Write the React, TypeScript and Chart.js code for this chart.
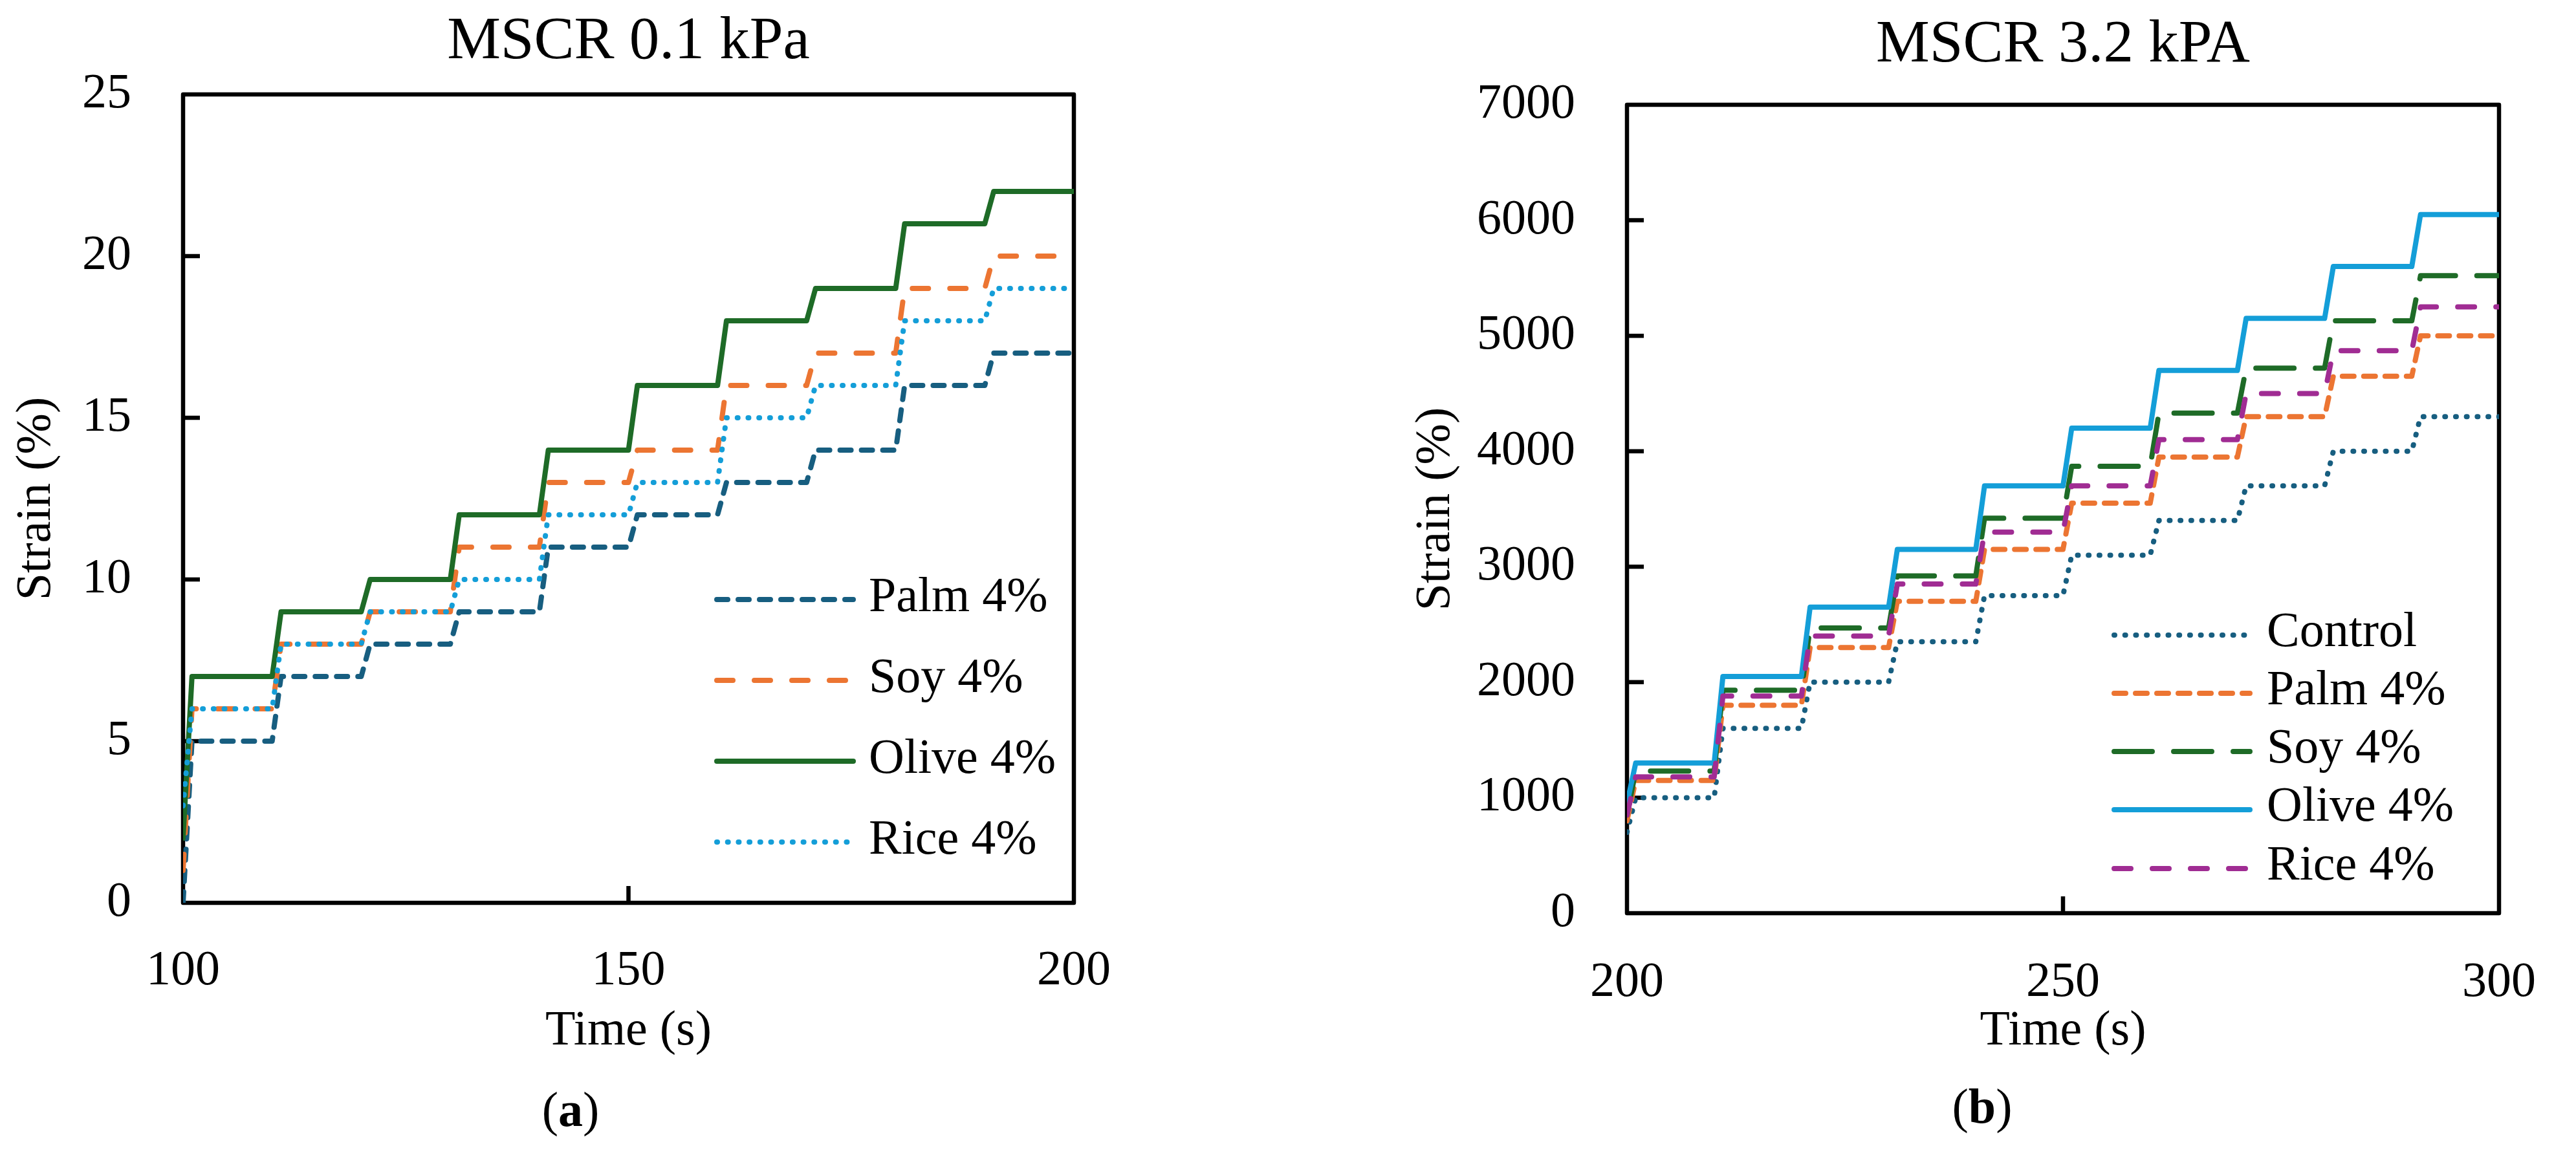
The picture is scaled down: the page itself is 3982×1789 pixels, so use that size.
import React, { useEffect, useRef } from "react";
import { Chart, registerables } from "chart.js";

Chart.register(...registerables);

const FONT = "'Liberation Serif', 'Times New Roman', serif";

// ---------- Panel (a): MSCR 0.1 kPa ----------
const titleA = "MSCR 0.1 kPa";
const timeA = [100, 101, 110, 111, 120, 121, 130, 131, 140, 141, 150, 151, 160, 161, 170, 171, 180, 181, 190, 191, 200];
const palmA = [0, 5, 5, 7, 7, 8, 8, 9, 9, 11, 11, 12, 12, 13, 13, 14, 14, 16, 16, 17, 17];
const soyA = [1, 6, 6, 8, 8, 9, 9, 11, 11, 13, 13, 14, 14, 16, 16, 17, 17, 19, 19, 20, 20];
const oliveA = [2, 7, 7, 9, 9, 10, 10, 12, 12, 14, 14, 16, 16, 18, 18, 19, 19, 21, 21, 22, 22];
const riceA = [3, 6, 6, 8, 8, 9, 9, 10, 10, 12, 12, 13, 13, 15, 15, 16, 16, 18, 18, 19, 19];
const labelsA = ["Palm 4%", "Soy 4%", "Olive 4%", "Rice 4%"];
const xRangeA = [100, 200];
const yRangeA = [0, 25];

// ---------- Panel (b): MSCR 3.2 kPA ----------
const titleB = "MSCR 3.2 kPA";
const timeB = [200, 201, 210, 211, 220, 221, 230, 231, 240, 241, 250, 251, 260, 261, 270, 271, 280, 281, 290, 291, 300];
const controlB = [700, 1000, 1000, 1600, 1600, 2000, 2000, 2350, 2350, 2750, 2750, 3100, 3100, 3400, 3400, 3700, 3700, 4000, 4000, 4300, 4300];
const palmB = [800, 1150, 1150, 1800, 1800, 2300, 2300, 2700, 2700, 3150, 3150, 3550, 3550, 3950, 3950, 4300, 4300, 4650, 4650, 5000, 5000];
const soyB = [850, 1230, 1230, 1930, 1930, 2470, 2470, 2920, 2920, 3420, 3420, 3870, 3870, 4330, 4330, 4720, 4720, 5130, 5130, 5520, 5520];
const oliveB = [950, 1300, 1300, 2050, 2050, 2650, 2650, 3150, 3150, 3700, 3700, 4200, 4200, 4700, 4700, 5150, 5150, 5600, 5600, 6050, 6050];
const riceB = [850, 1180, 1180, 1880, 1880, 2400, 2400, 2850, 2850, 3300, 3300, 3700, 3700, 4100, 4100, 4500, 4500, 4870, 4870, 5250, 5250];
const labelsB = ["Control", "Palm 4%", "Soy 4%", "Olive 4%", "Rice 4%"];
const xRangeB = [200, 300];
const yRangeB = [0, 7000];

const xTitle = "Time (s)";
const yTitle = "Strain (%)";

const C_DARKBLUE = "#175E80";
const C_ORANGE = "#EC7532";
const C_GREEN = "#1E6B27";
const C_LIGHTBLUE = "#149ED8";
const C_PURPLE = "#A02C93";

const pts = (xs: number[], ys: number[]) => xs.map((x, i) => ({ x, y: ys[i] }));

const framePlugin = {
  id: "frame",
  beforeDatasetsDraw(chart: any, _args: any, opts: any) {
    const { ctx, chartArea: a } = chart;
    const xs = chart.scales.x;
    const ys = chart.scales.y;
    ctx.save();
    ctx.strokeStyle = "#000";
    ctx.lineWidth = opts.lineWidth;
    ctx.lineCap = "butt";
    ctx.beginPath();
    for (const t of xs.ticks) {
      if (t.value === xs.min || t.value === xs.max) continue;
      const px = xs.getPixelForValue(t.value);
      ctx.moveTo(px, a.bottom);
      ctx.lineTo(px, a.bottom - opts.tickLen);
    }
    for (const t of ys.ticks) {
      if (t.value === ys.min || t.value === ys.max) continue;
      const py = ys.getPixelForValue(t.value);
      ctx.moveTo(a.left, py);
      ctx.lineTo(a.left + opts.tickLen, py);
    }
    ctx.stroke();
    ctx.lineJoin = "round";
    ctx.strokeRect(a.left, a.top, a.right - a.left, a.bottom - a.top);
    ctx.restore();
  },
};

const legendPlugin = {
  id: "insideLegend",
  afterDatasetsDraw(chart: any, _args: any, opts: any) {
    const { ctx } = chart;
    chart.data.datasets.forEach((ds: any, i: number) => {
      const y = opts.rows[i];
      ctx.save();
      ctx.strokeStyle = ds.borderColor;
      ctx.lineWidth = ds.borderWidth;
      ctx.lineCap = "round";
      ctx.setLineDash(ds.borderDash || []);
      ctx.beginPath();
      ctx.moveTo(opts.x0, y);
      ctx.lineTo(opts.x1, y);
      ctx.stroke();
      ctx.setLineDash([]);
      ctx.fillStyle = "#000";
      ctx.font = `${opts.fontSize}px ${FONT}`;
      ctx.textBaseline = "middle";
      ctx.textAlign = "left";
      ctx.fillText(ds.label, opts.textX, y + (opts.textDy || 0));
      ctx.restore();
    });
  },
};

const line = (label: string, data: any[], color: string, dash: number[], order: number) => ({
  label,
  data,
  borderColor: color,
  backgroundColor: color,
  borderWidth: 8,
  borderDash: dash,
  borderCapStyle: "round",
  borderJoinStyle: "round",
  pointRadius: 0,
  tension: 0,
  fill: false,
  order,
});

function makeConfig(p: any) {
  return {
    type: "line",
    data: { datasets: p.datasets },
    plugins: [framePlugin, legendPlugin],
    options: {
      animation: false,
      responsive: false,
      devicePixelRatio: 1,
      parsing: true,
      layout: { padding: { left: 0, right: p.padRight, top: 0, bottom: 0 } },
      plugins: {
        legend: { display: false },
        tooltip: { enabled: false },
        title: {
          display: true,
          text: p.title,
          fullSize: false,
          color: "#000",
          font: { family: FONT, size: 93, weight: "normal", lineHeight: 1.2 },
          padding: { top: p.titlePadTop, bottom: p.titlePadBottom },
        },
        frame: { lineWidth: 6.5, tickLen: 26 },
        insideLegend: p.legend,
      },
      scales: {
        x: {
          type: "linear",
          min: p.xRange[0],
          max: p.xRange[1],
          grid: { display: false, drawTicks: false },
          border: { display: false },
          ticks: {
            stepSize: 50,
            color: "#000",
            font: { family: FONT, size: 76, lineHeight: 1.2 },
            padding: p.xTickPad,
            maxRotation: 0,
            autoSkip: false,
            callback: (v: any) => String(v),
          },
          title: {
            display: true,
            text: xTitle,
            color: "#000",
            font: { family: FONT, size: 76, lineHeight: 1.2 },
            padding: { top: 0, bottom: 148 },
          },
          afterFit: (s: any) => {
            s.height = p.xHeight;
          },
        },
        y: {
          type: "linear",
          min: p.yRange[0],
          max: p.yRange[1],
          grid: { display: false, drawTicks: false },
          border: { display: false },
          ticks: {
            stepSize: p.yStep,
            color: "#000",
            font: { family: FONT, size: 76, lineHeight: 1.2 },
            padding: 80,
            callback: (v: any) => String(v),
          },
          title: {
            display: true,
            text: yTitle,
            color: "#000",
            font: { family: FONT, size: 76, lineHeight: 1.2 },
            padding: { top: p.yTitlePad, bottom: 0 },
          },
          afterFit: (s: any) => {
            s.width = p.yWidth;
          },
        },
      },
    },
  };
}

function configA() {
  return makeConfig({
    title: titleA,
    datasets: [
      line(labelsA[0], pts(timeA, palmA), C_DARKBLUE, [17, 16], 4),
      line(labelsA[1], pts(timeA, soyA), C_ORANGE, [25, 33], 3),
      line(labelsA[2], pts(timeA, oliveA), C_GREEN, [], 2),
      line(labelsA[3], pts(timeA, riceA), C_LIGHTBLUE, [1, 15.7], 1),
    ],
    xRange: xRangeA,
    yRange: yRangeA,
    yStep: 5,
    padRight: 330,
    yWidth: 283,
    xHeight: 393,
    titlePadTop: 10,
    titlePadBottom: 24.4,
    yTitlePad: 11,
    xTickPad: 60,
    legend: { x0: 1108, x1: 1319, textX: 1343, rows: [927, 1052, 1177, 1302], fontSize: 76, textDy: -2 },
  });
}

function configB() {
  return makeConfig({
    title: titleB,
    datasets: [
      line(labelsB[0], pts(timeB, controlB), C_DARKBLUE, [1, 15.7], 5),
      line(labelsB[1], pts(timeB, palmB), C_ORANGE, [18, 15], 4),
      line(labelsB[2], pts(timeB, soyB), C_GREEN, [59, 33], 3),
      line(labelsB[3], pts(timeB, oliveB), C_LIGHTBLUE, [], 2),
      line(labelsB[4], pts(timeB, riceB), C_PURPLE, [26, 33], 1),
    ],
    xRange: xRangeB,
    yRange: yRangeB,
    yStep: 1000,
    padRight: 73,
    yWidth: 525,
    xHeight: 377,
    titlePadTop: 15,
    titlePadBottom: 35.4,
    yTitlePad: 184,
    xTickPad: 62,
    legend: { x0: 1278, x1: 1488, textX: 1514, rows: [982, 1072, 1162, 1252, 1343], fontSize: 76, textDy: -3 },
  });
}

function ChartCanvas({ make, left, width }: { make: () => any; left: number; width: number }) {
  const ref = useRef<HTMLCanvasElement | null>(null);
  useEffect(() => {
    if (!ref.current) return;
    const chart = new Chart(ref.current, make());
    return () => chart.destroy();
  }, []);
  return (
    <canvas
      ref={ref}
      width={width}
      height={1789}
      style={{ position: "absolute", left, top: 0, width, height: 1789, display: "block" }}
    />
  );
}

const captionStyle = (x: number, y: number): React.CSSProperties => ({
  position: "absolute",
  left: x,
  top: y,
  transform: "translate(-50%, -50%)",
  fontFamily: FONT,
  fontSize: 76,
  lineHeight: 1,
  color: "#000",
  whiteSpace: "nowrap",
});

export default function App() {
  return (
    <div
      style={{
        position: "absolute",
        left: 0,
        top: 0,
        width: 3982,
        height: 1789,
        background: "#fff",
        overflow: "hidden",
      }}
    >
      <ChartCanvas make={configA} left={0} width={1990} />
      <ChartCanvas make={configB} left={1990} width={1992} />
      <div style={captionStyle(882, 1715)}>
        (<b>a</b>)
      </div>
      <div style={captionStyle(3064, 1710)}>
        (<b>b</b>)
      </div>
    </div>
  );
}
